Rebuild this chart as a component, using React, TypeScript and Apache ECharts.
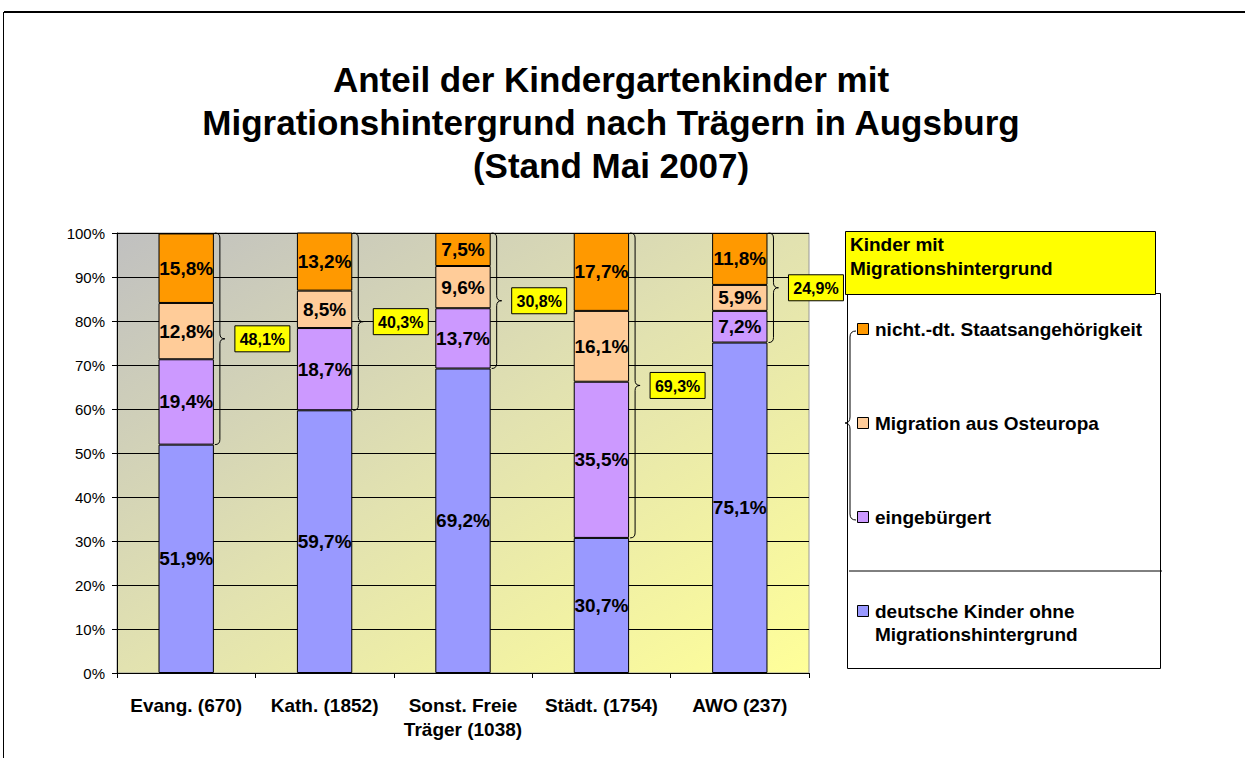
import React, { useEffect, useRef } from "react";
import * as echarts from "echarts";

const FONT = '"Liberation Sans", Arial, Helvetica, sans-serif';

const titleText =
  "Anteil der Kindergartenkinder mit\nMigrationshintergrund nach Trägern in Augsburg\n(Stand Mai 2007)";

const categories = [
  "Evang. (670)",
  "Kath. (1852)",
  "Sonst. Freie\nTräger (1038)",
  "Städt. (1754)",
  "AWO (237)",
];

const seriesNames = [
  "deutsche Kinder ohne Migrationshintergrund",
  "eingebürgert",
  "Migration aus Osteuropa",
  "nicht.-dt. Staatsangehörigkeit",
];

const deutsche = [51.9, 59.7, 69.2, 30.7, 75.1];
const eingebuergert = [19.4, 18.7, 13.7, 35.5, 7.2];
const osteuropa = [12.8, 8.5, 9.6, 16.1, 5.9];
const nichtDeutsch = [15.8, 13.2, 7.5, 17.7, 11.8];
const migrationTotal = [48.1, 40.3, 30.8, 69.3, 24.9];

const seriesColors = ["#9999ff", "#cc99ff", "#ffcc99", "#ff9900"];

const legendHeader = "Kinder mit\nMigrationshintergrund";
const legendLabels = [
  "nicht.-dt. Staatsangehörigkeit",
  "Migration aus Osteuropa",
  "eingebürgert",
  "deutsche Kinder ohne\nMigrationshintergrund",
];
const legendColors = ["#ff9900", "#ffcc99", "#cc99ff", "#9999ff"];

const yTicks = [0, 10, 20, 30, 40, 50, 60, 70, 80, 90, 100];

const fmt = (v: number) => v.toFixed(1).replace(".", ",") + "%";

const LEGEND_BRACE =
  "M856,331 Q850,331 850,337 L850,417 Q850,423 845,423 Q850,423 850,429 L850,514 Q850,520 856,520";

let registered = false;

export default function App() {
  const ref = useRef<HTMLDivElement>(null);

  useEffect(() => {
    document.body.style.margin = "0";
    if (!registered) {
      echarts.graphic.registerShape(
        "legendBrace",
        echarts.graphic.extendPath(LEGEND_BRACE, {})
      );
      registered = true;
    }
    const chart = echarts.init(ref.current!, null, { renderer: "svg" });

    const stackData = [deutsche, eingebuergert, osteuropa, nichtDeutsch];

    const barSeries = stackData.map((arr, k) => ({
      name: seriesNames[k],
      type: "bar",
      stack: "total",
      barWidth: "40%",
      data: arr,
      itemStyle: { color: seriesColors[k], borderColor: "#000", borderWidth: 1 },
      label: {
        show: true,
        position: "inside",
        color: "#000",
        fontFamily: FONT,
        fontWeight: "bold",
        fontSize: 19,
        formatter: (p: any) => fmt(p.value),
      },
      z: 2,
    }));

    const braceData = categories.map((_, i) => [i, deutsche[i], migrationTotal[i]]);

    const braceSeries = {
      name: "brace",
      type: "custom",
      coordinateSystem: "cartesian2d",
      silent: true,
      clip: false,
      z: 5,
      encode: { x: 0, y: 1 },
      data: braceData,
      renderItem: (params: any, api: any) => {
        const i = api.value(0);
        const low = api.value(1);
        const pct = api.value(2);
        const top = api.coord([i, 100]);
        const bot = api.coord([i, low]);
        const band = api.size([1, 0])[0];
        const x0 = top[0] + band * 0.2 + 1;
        const yT = top[1];
        const yB = bot[1];
        const yM = (yT + yB) / 2;
        const r = 5;
        const xs = x0 + r;
        const xt = x0 + 2 * r;
        const d =
          `M${x0},${yT} Q${xs},${yT} ${xs},${yT + r} L${xs},${yM - r} ` +
          `Q${xs},${yM} ${xt},${yM} Q${xs},${yM} ${xs},${yM + r} ` +
          `L${xs},${yB - r} Q${xs},${yB} ${x0},${yB}`;
        const bx = xt + 10;
        const bw = 55;
        const bh = 26;
        return {
          type: "group",
          children: [
            {
              type: "path",
              shape: { pathData: d },
              style: { fill: "none", stroke: "#000", lineWidth: 1 },
            },
            {
              type: "rect",
              shape: { x: bx, y: yM - bh / 2, width: bw, height: bh },
              style: { fill: "#ffff00", stroke: "#000", lineWidth: 1 },
            },
            {
              type: "text",
              style: {
                text: fmt(pct),
                x: bx + bw / 2,
                y: yM + 1,
                align: "center",
                verticalAlign: "middle",
                font: `bold 16px ${FONT}`,
                fill: "#000",
              },
            },
          ],
        };
      },
    };

    const legendTop = 329;
    const legendGap = 94;
    const legendElems: any[] = [];
    legendLabels.forEach((lab, k) => {
      const yc = legendTop + k * legendGap;
      legendElems.push({
        type: "rect",
        shape: { x: 857.5, y: yc - 5.5, width: 11, height: 11 },
        style: { fill: legendColors[k], stroke: "#000", lineWidth: 1 },
      });
      const multi = lab.indexOf("\n") >= 0;
      legendElems.push({
        type: "text",
        x: 875,
        y: multi ? yc - 11.5 : yc,
        style: {
          text: lab,
          font: `bold 19px ${FONT}`,
          fill: "#000",
          align: "left",
          verticalAlign: multi ? "top" : "middle",
          lineHeight: 23,
        },
      });
    });

    const option: any = {
      animation: false,
      backgroundColor: "#ffffff",
      title: {
        text: titleText,
        left: 606,
        top: 53,
        textAlign: "center",
        textStyle: {
          fontFamily: FONT,
          fontWeight: "bold",
          fontSize: 35,
          lineHeight: 43,
          color: "#000",
        },
      },
      grid: {
        left: 117,
        right: 436,
        top: 233,
        bottom: 85,
        show: true,
        borderColor: "#999",
        borderWidth: 1,
        backgroundColor: {
          type: "linear",
          x: 0,
          y: 0,
          x2: 1,
          y2: 1,
          colorStops: [
            { offset: 0, color: "#c0c0c0" },
            { offset: 0.5, color: "#e2e2b0" },
            { offset: 1, color: "#ffff99" },
          ],
        },
      },
      xAxis: {
        type: "category",
        data: categories,
        axisLine: { lineStyle: { color: "#000", width: 1 } },
        axisTick: { show: true, alignWithLabel: false, length: 5, lineStyle: { color: "#000" } },
        axisLabel: {
          interval: 0,
          margin: 20,
          color: "#000",
          fontFamily: FONT,
          fontWeight: "bold",
          fontSize: 19,
          lineHeight: 24,
        },
      },
      yAxis: {
        type: "value",
        min: yTicks[0],
        max: yTicks[yTicks.length - 1],
        interval: 10,
        axisLine: { show: true, lineStyle: { color: "#000" } },
        axisTick: { show: true, length: 5, lineStyle: { color: "#000" } },
        splitLine: { show: true, lineStyle: { color: "#000", width: 1 } },
        axisLabel: {
          formatter: "{value}%",
          color: "#000",
          fontFamily: FONT,
          fontSize: 15,
          margin: 12,
        },
      },
      series: [...barSeries, braceSeries],
      graphic: [
        {
          type: "line",
          shape: { x1: 4, y1: 12, x2: 1245, y2: 12 },
          style: { stroke: "#000", lineWidth: 2 },
        },
        {
          type: "line",
          shape: { x1: 3.5, y1: 12, x2: 3.5, y2: 758 },
          style: { stroke: "#000", lineWidth: 1 },
        },
        {
          type: "rect",
          shape: { x: 847.5, y: 293.5, width: 313, height: 375 },
          style: { fill: "#fff", stroke: "#000", lineWidth: 1 },
        },
        {
          type: "line",
          shape: { x1: 849, y1: 571, x2: 1162, y2: 571 },
          style: { stroke: "#000", lineWidth: 1 },
        },
        {
          type: "rect",
          shape: { x: 845.5, y: 231.5, width: 310, height: 63 },
          style: { fill: "#ffff00", stroke: "#000", lineWidth: 1 },
        },
        {
          type: "text",
          x: 850,
          y: 232.5,
          style: {
            text: legendHeader,
            font: `bold 19px ${FONT}`,
            fill: "#000",
            align: "left",
            verticalAlign: "top",
            lineHeight: 24,
          },
        },
        {
          type: "legendBrace",
          x: 0,
          y: 0,
          style: { fill: "none", stroke: "#000", lineWidth: 1 },
        },
        ...legendElems,
      ],
    };

    chart.setOption(option);
    return () => {
      chart.dispose();
    };
  }, []);

  return <div ref={ref} style={{ width: 1245, height: 758 }} />;
}
